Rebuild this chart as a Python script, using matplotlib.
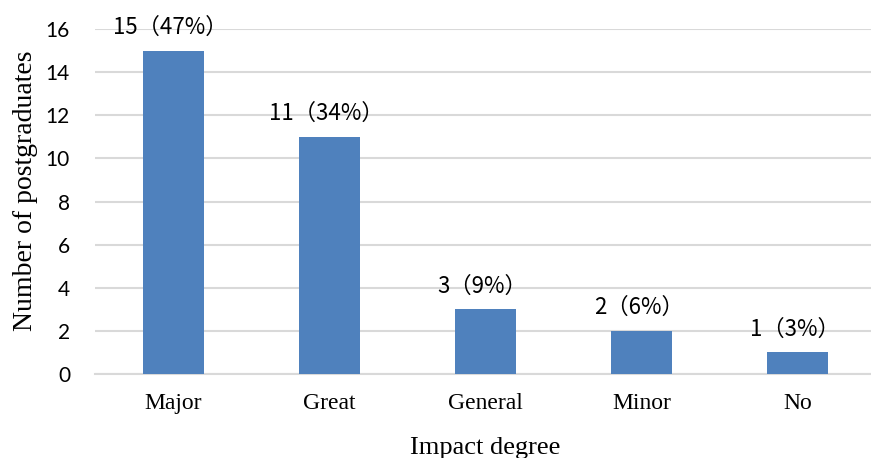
import matplotlib
matplotlib.use("Agg")
import matplotlib.pyplot as plt
import numpy as np

# data
categories = ["Major", "Great", "General", "Minor", "No"]
counts = [15, 11, 3, 2, 1]
percents = [47, 34, 9, 6, 3]
yticks = [0, 2, 4, 6, 8, 10, 12, 14, 16]

bar_color = "#4F81BD"
grid_color = "#D9D9D9"

fig = plt.figure(figsize=(8.71, 4.58), dpi=100)
ax = fig.add_axes([95 / 871, 84 / 458, 781 / 871, 345 / 458])

x = np.arange(len(categories))
bars = ax.bar(x, counts, width=0.39, color=bar_color, zorder=3)

# labels above bars
for xi, c, p in zip(x, counts, percents):
    ax.text(xi - 0.02, c + 0.55, f"{c}（{p}%）", ha="center", va="bottom",
            fontsize=16, family=["Noto Sans CJK SC", "DejaVu Sans"], zorder=4)

ax.set_xlim(-0.5, len(categories) - 0.5)
ax.set_ylim(0, 16)
ax.set_yticks(yticks)
ax.set_yticklabels([str(t) for t in yticks], family="Lato", fontsize=15)
ax.set_xticks(x)
ax.set_xticklabels(categories, family="Liberation Serif", fontsize=17)

ax.tick_params(axis="both", length=0)
ax.tick_params(axis="x", pad=14)
ax.tick_params(axis="y", pad=18)

ax.grid(axis="y", color=grid_color, linewidth=1.5, zorder=0)
for s in ["top", "right", "left"]:
    ax.spines[s].set_visible(False)
ax.spines["bottom"].set_color(grid_color)
ax.spines["bottom"].set_linewidth(1.5)

ax.set_xlabel("Impact degree", family="Liberation Serif", fontsize=19)
ax.set_ylabel("Number of postgraduates", family="Liberation Serif", fontsize=20)
ax.xaxis.set_label_coords(0.5, -0.182)
ax.yaxis.set_label_coords(-0.073, 0.53)

fig.savefig("out.png", dpi=100)
